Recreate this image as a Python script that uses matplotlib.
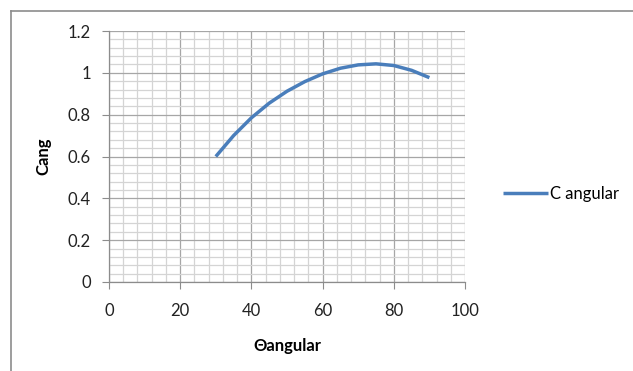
import matplotlib.pyplot as plt
from matplotlib.lines import Line2D
from matplotlib.ticker import MultipleLocator

# C angular against the angle (degrees)
theta = [30, 35, 40, 45, 50, 55, 60, 65, 70, 75, 80, 85, 90]
c_ang = [0.60, 0.70, 0.785, 0.855, 0.912, 0.958, 0.995, 1.022, 1.038, 1.043, 1.035, 1.012, 0.977]

x_ticks = [0, 20, 40, 60, 80, 100]
y_ticks = [0, 0.2, 0.4, 0.6, 0.8, 1.0, 1.2]
y_labels = ['0', '0.2', '0.4', '0.6', '0.8', '1', '1.2']

plt.rcParams['font.family'] = ['Lato', 'DejaVu Sans']

fig = plt.figure(figsize=(6.33, 3.71), dpi=100)
ax = fig.add_axes([109 / 633, 1 - 282 / 371, 356 / 633, 251 / 371])

# outer frame of the chart area (top and left edges visible)
fig.add_artist(Line2D([10.5 / 633, 10.5 / 633], [0, 1 - 10.5 / 371], color='#8c8c8c', lw=1.2))
fig.add_artist(Line2D([10.5 / 633, 1], [1 - 10.5 / 371, 1 - 10.5 / 371], color='#8c8c8c', lw=1.2))

ax.plot(theta, c_ang, color='#4a7ebb', lw=2.5, solid_capstyle='butt', solid_joinstyle='round',
        label='C angular', zorder=3)

ax.set_xlim(0, 100)
ax.set_ylim(0, 1.2)
ax.set_xticks(x_ticks)
ax.set_yticks(y_ticks)
ax.set_yticklabels(y_labels)
ax.xaxis.set_minor_locator(MultipleLocator(4))
ax.yaxis.set_minor_locator(MultipleLocator(0.04))
ax.grid(which='minor', color='#d4d4d4', lw=0.9)
ax.grid(which='major', color='#a6a6a6', lw=0.9)
ax.set_axisbelow(True)

for s in ['top', 'right']:
    ax.spines[s].set_visible(False)
for s in ['left', 'bottom']:
    ax.spines[s].set_color('#8c8c8c')
    ax.spines[s].set_linewidth(0.9)
ax.tick_params(which='major', length=5, color='#8c8c8c', labelsize=12, labelcolor='#222222')
ax.tick_params(which='minor', length=0)
ax.tick_params(axis='x', pad=10)
ax.tick_params(axis='y', pad=8)

ax.set_xlabel('\u0398angular', fontsize=12, fontweight='bold', labelpad=14)
ax.set_ylabel('Cang', fontsize=12, fontweight='bold', labelpad=12)

ax.legend(loc='center left', bbox_to_anchor=(1.065, 0.35), frameon=False, fontsize=12,
          handlelength=2.7, handletextpad=0.1)

fig.savefig('out.png', dpi=100)
